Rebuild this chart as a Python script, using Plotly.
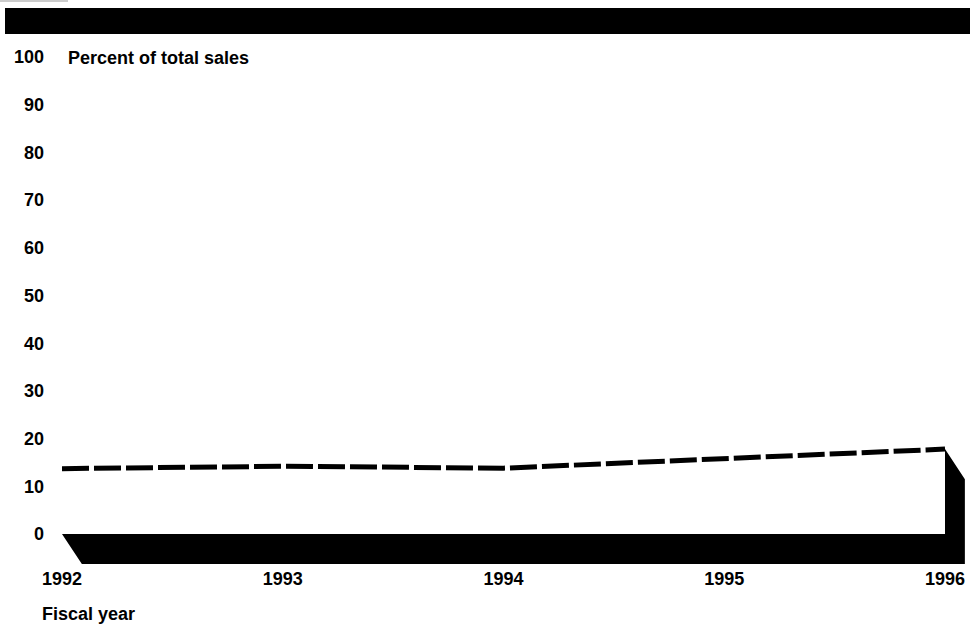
import plotly.graph_objects as go

# Share of total sales by fiscal year
years = [1992, 1993, 1994, 1995, 1996]
share_pct = [13.7, 14.2, 13.8, 15.8, 17.8]

y_ticks = [0, 10, 20, 30, 40, 50, 60, 70, 80, 90, 100]
y_tick_text = [str(v) for v in y_ticks]
x_tick_text = [str(y) for y in years]

# Page geometry (pixels)
W, H = 975, 634
M_L, M_R, M_T, M_B = 48, 0, 0, 68
PLOT_W = W - M_L - M_R
PLOT_H = H - M_T - M_B

# Axis ranges
X_RANGE = [1991.93658, 1996.1359]
Y_RANGE = [-6.71, 111.95]

# 3-D slab depth, in data units
DEPTH_X = 0.09
DEPTH_Y = 6.3

FONT = "Liberation Sans, Arial, Helvetica, sans-serif"
FONT_SIZE = 18


def px_x(p):
    return (p - M_L) / PLOT_W


def px_y(p):
    return 1 - (p - M_T) / PLOT_H


fig = go.Figure()

# Floor slab plus the end wall under the last point
x0, xn, vn = years[0], years[-1], share_pct[-1]
slab_x = [x0, xn, xn, xn + DEPTH_X, xn + DEPTH_X, x0 + DEPTH_X, x0]
slab_y = [0, 0, vn, vn - DEPTH_Y, -DEPTH_Y, -DEPTH_Y, 0]
fig.add_trace(go.Scatter(
    x=slab_x, y=slab_y, mode="lines", fill="toself",
    fillcolor="black", line=dict(width=0, color="black"),
    hoverinfo="skip", showlegend=False,
))

# Dashed share line
fig.add_trace(go.Scatter(
    x=years, y=share_pct, mode="lines",
    line=dict(color="black", width=5, dash="27px,5px"),
    showlegend=False,
))

label_font = dict(family=FONT, size=FONT_SIZE, weight="bold", color="black")

fig.update_layout(
    width=W, height=H,
    margin=dict(l=M_L, r=M_R, t=M_T, b=M_B),
    paper_bgcolor="white", plot_bgcolor="white",
    font=dict(family=FONT, color="black"),
    xaxis=dict(
        range=X_RANGE, showgrid=False, zeroline=False, showline=False,
        ticks="", tickvals=years, ticktext=x_tick_text,
        tickfont=label_font, ticklabelstandoff=0,
    ),
    yaxis=dict(
        range=Y_RANGE, showgrid=False, zeroline=False, showline=False,
        ticks="", tickvals=y_ticks, ticktext=y_tick_text,
        tickfont=label_font, ticklabelstandoff=3,
    ),
    shapes=[
        # heavy rule across the top
        dict(type="rect", xref="paper", yref="paper",
             x0=px_x(5), x1=px_x(970), y0=px_y(34), y1=px_y(8),
             fillcolor="black", line=dict(width=0), layer="above"),
        dict(type="line", xref="paper", yref="paper",
             x0=px_x(0), x1=px_x(68), y0=px_y(1), y1=px_y(1),
             line=dict(color="#999999", width=1)),
    ],
    annotations=[
        dict(text="Percent of total sales", xref="paper", yref="paper",
             x=px_x(66), y=px_y(58), xanchor="left", yanchor="middle",
             showarrow=False, font=label_font),
        dict(text="Fiscal year", xref="paper", yref="paper",
             x=px_x(40), y=px_y(614), xanchor="left", yanchor="middle",
             showarrow=False, font=label_font),
    ],
)

fig.write_html("out.html")
